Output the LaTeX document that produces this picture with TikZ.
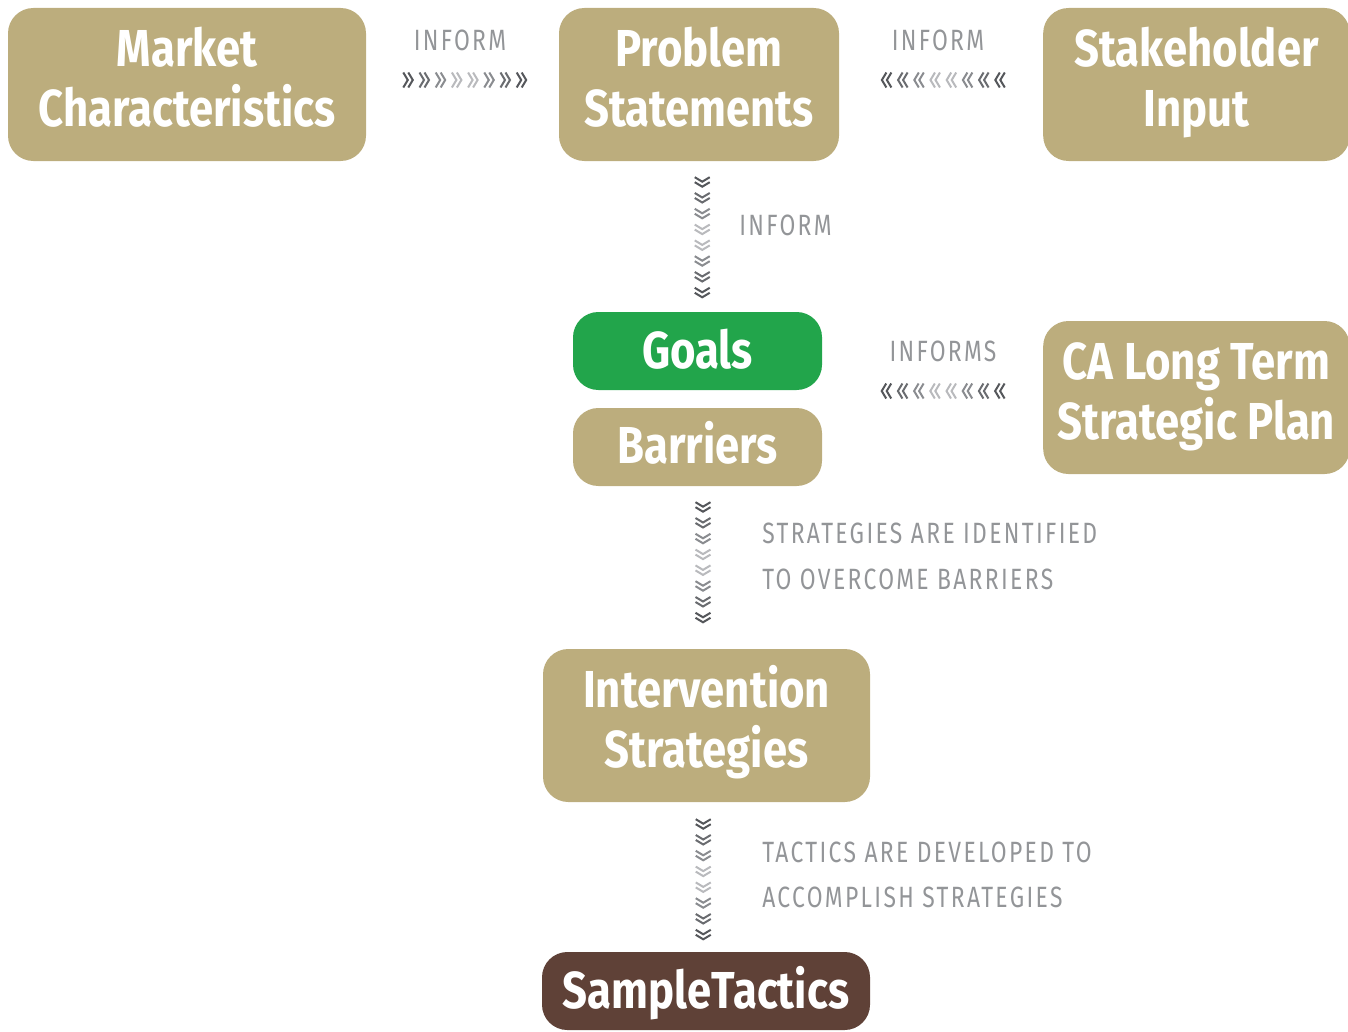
\documentclass[tikz,border=0pt]{standalone}
\usepackage{fontspec}
\newfontfamily\boxfont{Fira Sans}[FakeStretch=0.84]
\newfontfamily\labfont{Fira Sans}[FakeStretch=0.78,LetterSpace=8]
\usetikzlibrary{calc}
\definecolor{tanbox}{HTML}{BCAD7D}
\definecolor{goalgreen}{HTML}{22A54B}
\definecolor{brownbox}{HTML}{5F4137}
\definecolor{labgray}{HTML}{939598}
\definecolor{ch1}{HTML}{55575B}
\definecolor{ch2}{HTML}{6A6C70}
\definecolor{ch3}{HTML}{8A8C90}
\definecolor{ch4}{HTML}{B9BABD}
\newcommand{\uptext}[2]{\raisebox{#1}{\begin{tabular}{@{}c@{}}#2\end{tabular}}}
\tikzset{
  card/.style={rectangle, rounded corners=19pt, fill=tanbox, text=white, inner sep=0pt,
    font=\boxfont\bfseries\fontsize{39}{45}\selectfont, align=center},
  lab/.style={text=labgray, inner sep=0pt, font=\labfont\fontsize{22}{34}\selectfont},
  dchev/.pic={\draw[line width=1.5pt, line cap=butt, line join=miter]
     (-5.5,-7.5)--(-1,0)--(-5.5,7.5) (-0.5,-7.5)--(4,0)--(-0.5,7.5);}
}
\begin{document}
\begin{tikzpicture}[x=0.75pt,y=-0.75pt]
\useasboundingbox (0,0) rectangle (1348,1031);
\begin{scope}
\clip (0,0) rectangle (1348,1031);
\node[card, minimum width=268.5pt, minimum height=114.75pt] (mc) at (187,84.5) {\uptext{4.5pt}{Market\\Characteristics}};
\node[card, minimum width=210pt, minimum height=114.75pt] (ps) at (699,84.5) {\uptext{4.5pt}{Problem\\Statements}};
\node[card, minimum width=230pt, minimum height=114.75pt] (si) at (1196.5,84.5) {\uptext{4.5pt}{Stakeholder\\Input}};
\node[card, fill=goalgreen, minimum width=186.75pt, minimum height=58.5pt, text height=25.5pt, text depth=0pt] (go) at (697.5,351) {Goals};
\node[card, minimum width=186.75pt, minimum height=58.5pt, text height=24pt, text depth=0pt] (ba) at (697.5,447) {Barriers};
\node[card, minimum width=230pt, minimum height=114.75pt] (ca) at (1196.5,397.5) {\uptext{4.5pt}{CA Long Term\\Strategic Plan}};
\node[card, minimum width=245.25pt, minimum height=114.75pt] (is) at (706.5,725.5) {\uptext{4.5pt}{Intervention\\Strategies}};
\node[card, fill=brownbox, minimum width=246pt, minimum height=58.5pt, text height=25.5pt, text depth=0pt] (st) at (706,991) {SampleTactics};
\end{scope}

% chevron connectors
\coordinate (h1) at ($(mc.east)!0.5!(ps.west)+(3,-4.5)$);
\coordinate (h2) at ($(ps.east)!0.5!(si.west)+(1.5,-4.5)$);
\coordinate (h3) at ($(ca.west)+(-100.5,-6.5)$);
\coordinate (v1) at ($(ps.south)!0.5!(go.north)+(4,1.5)$);
\coordinate (v2) at ($(ba.south)!0.5!(is.north)+(1,-4.5)$);
\coordinate (v3) at ($(is.south)!0.5!(st.north)+(-3,3)$);
\foreach \i/\c in {0/ch1,1/ch2,2/ch3,3/ch4,4/ch4,5/ch3,6/ch2,7/ch1}{
  \pic[color=\c] at ($(h1)+({(\i-3.5)*16.2},0)$) {dchev};
  \pic[color=\c, rotate=180] at ($(h2)+({(\i-3.5)*16.2},0)$) {dchev};
  \pic[color=\c, rotate=180] at ($(h3)+({(\i-3.5)*16.2},0)$) {dchev};
  \pic[color=\c, rotate=-90] at ($(v1)+(0,{(\i-3.5)*15.8})$) {dchev};
  \pic[color=\c, rotate=-90] at ($(v2)+(0,{(\i-3.5)*15.8})$) {dchev};
  \pic[color=\c, rotate=-90] at ($(v3)+(0,{(\i-3.5)*15.8})$) {dchev};
}

% labels
\node[lab] (l1) at (460,40) {INFORM};
\node[lab] (l2) at (938,40) {INFORM};
\node[lab, anchor=west] (l3) at (739,225) {INFORM};
\node[lab] (l4) at (943,351) {INFORMS};
\node[lab, anchor=west] (l5) at (762,533) {STRATEGIES ARE IDENTIFIED};
\node[lab, anchor=west] (l6) at (762,579) {TO OVERCOME BARRIERS};
\node[lab, anchor=west] (l7) at (762,852) {TACTICS ARE DEVELOPED TO};
\node[lab, anchor=west] (l8) at (762,897) {ACCOMPLISH STRATEGIES};
\end{tikzpicture}
\end{document}
